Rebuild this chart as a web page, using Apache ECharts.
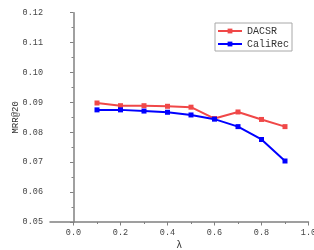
<!DOCTYPE html>
<html>
<head>
<meta charset="utf-8">
<script src="https://cdn.jsdelivr.net/npm/echarts@6/dist/echarts.min.js"></script>
<style>
  html, body { margin: 0; padding: 0; background: #fff; }
  #chart { width: 314px; height: 250px; }
</style>
</head>
<body>
<div id="chart"></div>
<script>
const lambdas = [0.1, 0.2, 0.3, 0.4, 0.5, 0.6, 0.7, 0.8, 0.9]
const dacsr = [0.0898, 0.0889, 0.0889, 0.0887, 0.0884, 0.0846, 0.0868, 0.0843, 0.0819]
const caliRec = [0.0875, 0.0875, 0.0871, 0.0867, 0.0858, 0.0844, 0.0819, 0.0776, 0.0704]
const xLabels = [0.0, 0.2, 0.4, 0.6, 0.8, 1.0]
const xMinor = [0.1, 0.3, 0.5, 0.7, 0.9]

{
    let view = document.getElementById('chart')
    let font = 'Liberation Mono'
    let axisGray = '#808080'
    let myChart = echarts.init(view, null, { renderer: 'canvas' })
    let pairs = arr => lambdas.map((x, i) => [x, arr[i]])
    let option = {
        animation: false,
        grid: { left: 50, right: 5.5, top: 12.7, bottom: 28, outerBoundsMode: 'none', containLabel: false },
        legend: {
            left: 215, top: 23,
            orient: 'vertical',
            padding: [3, 3, 2, 2],
            itemGap: 3,
            itemWidth: 24, itemHeight: 6,
            borderColor: '#a8a8a8', borderWidth: 1,
            backgroundColor: '#fff',
            textStyle: { fontFamily: font, fontSize: 10, color: '#333' },
            data: ['DACSR', 'CaliRec']
        },
        xAxis: [{
            type: 'value', min: -0.1, max: 1.0,
            name: 'λ', nameLocation: 'middle', nameGap: 18, nameMoveOverlap: false,
            nameTextStyle: { fontFamily: font, fontSize: 10, color: '#333' },
            axisLine: { lineStyle: { color: axisGray, width: 1.5 } },
            axisTick: { customValues: xLabels, length: 3.5, lineStyle: { color: axisGray, width: 1 } },
            axisLabel: {
                customValues: xLabels, margin: 6,
                fontFamily: font, fontSize: 8.5, color: '#444',
                formatter: v => v.toFixed(1)
            },
            splitLine: { show: false }
        }, {
            type: 'value', min: -0.1, max: 1.0, position: 'bottom',
            axisLine: { show: false },
            axisTick: { customValues: xMinor, length: 2, lineStyle: { color: axisGray, width: 1 } },
            axisLabel: { show: false },
            splitLine: { show: false }
        }],
        yAxis: {
            type: 'value', min: 0.05, max: 0.12, interval: 0.01,
            name: 'MRR@20', nameLocation: 'middle', nameGap: 30, nameMoveOverlap: false,
            nameTextStyle: { fontFamily: font, fontSize: 9, color: '#333' },
            axisLine: { show: true, lineStyle: { color: axisGray, width: 1.5 } },
            axisTick: { show: true, length: 3.5, lineStyle: { color: axisGray, width: 1 } },
            minorTick: { show: true, splitNumber: 2, length: 2, lineStyle: { color: axisGray, width: 1 } },
            axisLabel: {
                margin: 7, fontFamily: font, fontSize: 8.5, color: '#444',
                formatter: v => v.toFixed(2)
            },
            splitLine: { show: false }
        },
        series: [{
            name: 'DACSR', type: 'line',
            data: pairs(dacsr),
            symbol: 'rect', symbolSize: 5,
            lineStyle: { color: '#f04848', width: 2 },
            itemStyle: { color: '#f04848' }
        }, {
            name: 'CaliRec', type: 'line',
            data: pairs(caliRec),
            symbol: 'rect', symbolSize: 5,
            lineStyle: { color: '#0000ff', width: 2 },
            itemStyle: { color: '#0000ff' }
        }]
    }
    myChart.setOption(option)
}
</script>
</body>
</html>
